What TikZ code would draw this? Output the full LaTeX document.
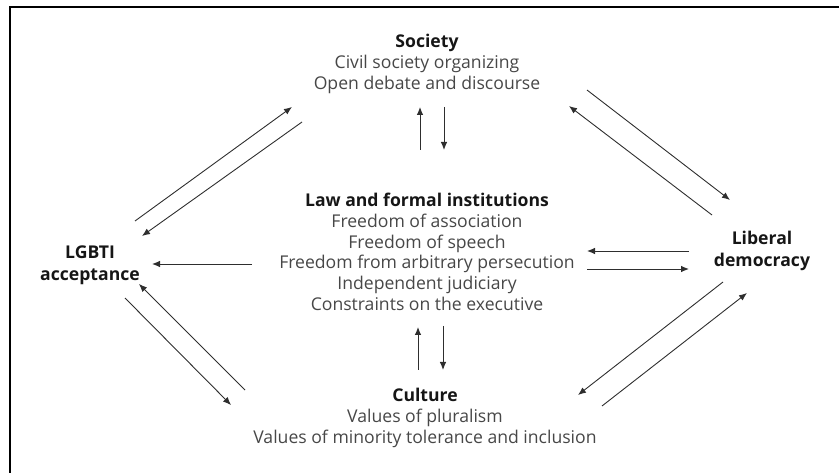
\documentclass[tikz,border=0pt]{standalone}
\usepackage{fontspec}
\setmainfont{Open Sans}
\usepackage{tikz}
\usetikzlibrary{arrows.meta}
\usepackage{xcolor}
\definecolor{bodytext}{HTML}{474747}
\definecolor{headtext}{HTML}{161616}
\definecolor{arrowgray}{HTML}{2E2E2E}

\begin{document}
\begin{tikzpicture}[
    x=1pt, y=-1pt,
    >={Latex[length=8pt,width=6.5pt]},
    block/.style={align=center, inner sep=0pt, text=bodytext,
        font=\fontsize{17.6}{20.7}\selectfont},
    head/.style={align=center, inner sep=0pt, text=headtext,
        font=\fontsize{17.6}{22}\selectfont\bfseries},
    link/.style={->, draw=arrowgray, line width=0.9pt}
]
\useasboundingbox (0,0) rectangle (839,473);

% frame
\draw[line width=2.2pt] (10,473) -- (10,7) -- (839,7);

\node[block] (society) at (427,64) {\textbf{\color{headtext}Society}\\Civil society organizing\\Open debate and discourse};
\node[block] (law) at (427,252) {\textbf{\color{headtext}Law and formal institutions}\\Freedom of association\\Freedom of speech\\Freedom from arbitrary persecution\\Independent judiciary\\Constraints on the executive};
\node[block] (culture) at (425,418) {\textbf{\color{headtext}Culture}\\Values of pluralism\\Values of minority tolerance and inclusion};
\node[head] (lgbti) at (90,265) {LGBTI\\acceptance};
\node[head] (liberal) at (762,251) {Liberal\\democracy};

% arrow ends
\coordinate (sl-a) at (420,150);
\coordinate (sl-b) at (420,107);
\coordinate (sl-c) at (444,107);
\coordinate (sl-d) at (444,150);
\coordinate (lc-a) at (418,370);
\coordinate (lc-b) at (418,327);
\coordinate (lc-c) at (443,326);
\coordinate (lc-d) at (443,370);
\coordinate (ll-a) at (252,264);
\coordinate (ll-b) at (152,264);
\coordinate (dl-a) at (689,251);
\coordinate (dl-b) at (587,251);
\coordinate (dl-c) at (587,269);
\coordinate (dl-d) at (689,269);
\coordinate (as-a) at (135,221);
\coordinate (as-b) at (292,107);
\coordinate (as-c) at (302,122);
\coordinate (as-d) at (142,236);
\coordinate (sd-a) at (587,90);
\coordinate (sd-b) at (730,200);
\coordinate (sd-c) at (712,215);
\coordinate (sd-d) at (569,106);
\coordinate (ac-a) at (245,390);
\coordinate (ac-b) at (139,284);
\coordinate (ac-c) at (125,298);
\coordinate (ac-d) at (231,405);
\coordinate (dc-a) at (723,282);
\coordinate (dc-b) at (578,395);
\coordinate (dc-c) at (602,406);
\coordinate (dc-d) at (747,293);

\draw[link] (sl-a) -- (sl-b);
\draw[link] (sl-c) -- (sl-d);
\draw[link] (lc-a) -- (lc-b);
\draw[link] (lc-c) -- (lc-d);
\draw[link] (ll-a) -- (ll-b);
\draw[link] (dl-a) -- (dl-b);
\draw[link] (dl-c) -- (dl-d);
\draw[link] (as-a) -- (as-b);
\draw[link] (as-c) -- (as-d);
\draw[link] (sd-a) -- (sd-b);
\draw[link] (sd-c) -- (sd-d);
\draw[link] (ac-a) -- (ac-b);
\draw[link] (ac-c) -- (ac-d);
\draw[link] (dc-a) -- (dc-b);
\draw[link] (dc-c) -- (dc-d);

\end{tikzpicture}
\end{document}
